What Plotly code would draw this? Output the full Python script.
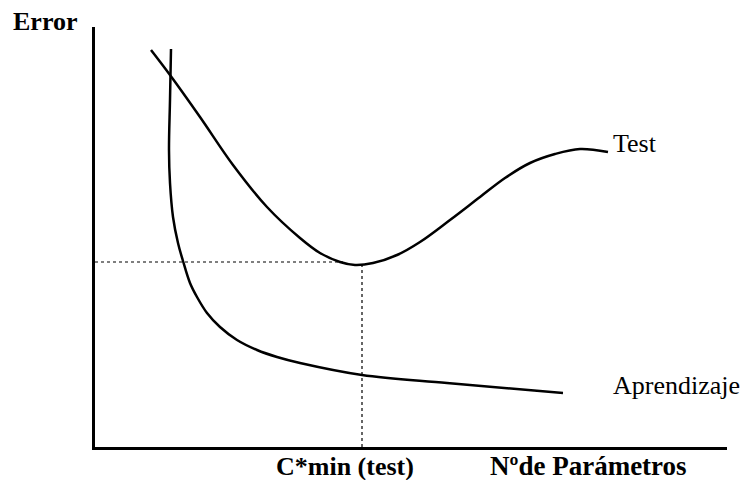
import plotly.graph_objects as go

# Schematic units (x: number of parameters, y: error)
test_x = [56, 75, 105, 138, 172, 205, 225, 245, 260, 278, 302, 325, 355, 385, 410, 435, 460, 485, 513]
test_y = [397, 372, 330, 282, 240, 209, 194, 185, 182, 184, 192, 205, 227, 250, 269, 284, 293, 298, 295]

train_x = [76, 75, 74, 75, 78, 83, 88, 95, 102, 112, 125, 142, 162, 182, 205, 267, 352, 468]
train_y = [398, 347, 297, 264, 230, 204, 186, 164, 150, 134, 120, 107, 97, 90, 84, 72, 64, 54]

c_min_x = 267          # position of C*min (test)
test_min_y = 182       # test error at C*min
guide_y = 185          # horizontal dotted guide level
guide_x_end = 248

x_range = [0, 632]
y_range = [0, 420]

serif = "Liberation Serif, Times New Roman, serif"
W, H = 746, 480
ml, mr, mt, mb = 95, 19, 27, 33
pw, ph = W - ml - mr, H - mt - mb


def px2paper_x(px):
    return (px - ml) / pw


def py2paper_y(py):
    return (H - mb - py) / ph


fig = go.Figure()
fig.add_trace(go.Scatter(x=test_x, y=test_y, mode="lines",
                         line=dict(color="black", width=2.5, shape="spline", smoothing=1.0),
                         hoverinfo="skip"))
fig.add_trace(go.Scatter(x=train_x, y=train_y, mode="lines",
                         line=dict(color="black", width=2.5, shape="spline", smoothing=1.0),
                         hoverinfo="skip"))
# dotted guides
fig.add_trace(go.Scatter(x=[0, guide_x_end], y=[guide_y, guide_y], mode="lines",
                         line=dict(color="black", width=1.2, dash="dot"), hoverinfo="skip"))
fig.add_trace(go.Scatter(x=[c_min_x, c_min_x], y=[0, test_min_y], mode="lines",
                         line=dict(color="black", width=1.2, dash="dot"), hoverinfo="skip"))

fig.add_annotation(x=px2paper_x(611), xref="paper", y=py2paper_y(143), yref="paper", text="Test",
                   showarrow=False, xanchor="left", yanchor="middle",
                   font=dict(family=serif, size=26, color="black"))
fig.add_annotation(x=px2paper_x(611), xref="paper", y=py2paper_y(385), yref="paper", text="Aprendizaje",
                   showarrow=False, xanchor="left", yanchor="middle",
                   font=dict(family=serif, size=26, color="black"))
fig.add_annotation(x=px2paper_x(345), xref="paper", y=py2paper_y(466), yref="paper",
                   text="<b>C*min (test)</b>", showarrow=False, xanchor="center", yanchor="middle",
                   font=dict(family=serif, size=26, color="black"))
fig.add_annotation(x=px2paper_x(588), xref="paper", y=py2paper_y(466), yref="paper",
                   text="<b>Nºde Parámetros</b>", showarrow=False, xanchor="center", yanchor="middle",
                   font=dict(family=serif, size=27, color="black"))
fig.add_annotation(x=px2paper_x(45), xref="paper", y=py2paper_y(21), yref="paper",
                   text="<b>Error</b>", showarrow=False, xanchor="center", yanchor="middle",
                   font=dict(family=serif, size=26, color="black"))

fig.update_xaxes(range=x_range, showline=True, linecolor="black", linewidth=3, showgrid=False,
                 zeroline=False, showticklabels=False, ticks="")
fig.update_yaxes(range=y_range, showline=True, linecolor="black", linewidth=3, showgrid=False,
                 zeroline=False, showticklabels=False, ticks="")
fig.update_layout(width=W, height=H, margin=dict(l=ml, r=mr, t=mt, b=mb),
                  plot_bgcolor="white", paper_bgcolor="white", showlegend=False)

fig.write_html("out.html", config={"displayModeBar": False},
               post_script="document.body.style.margin='0';")
